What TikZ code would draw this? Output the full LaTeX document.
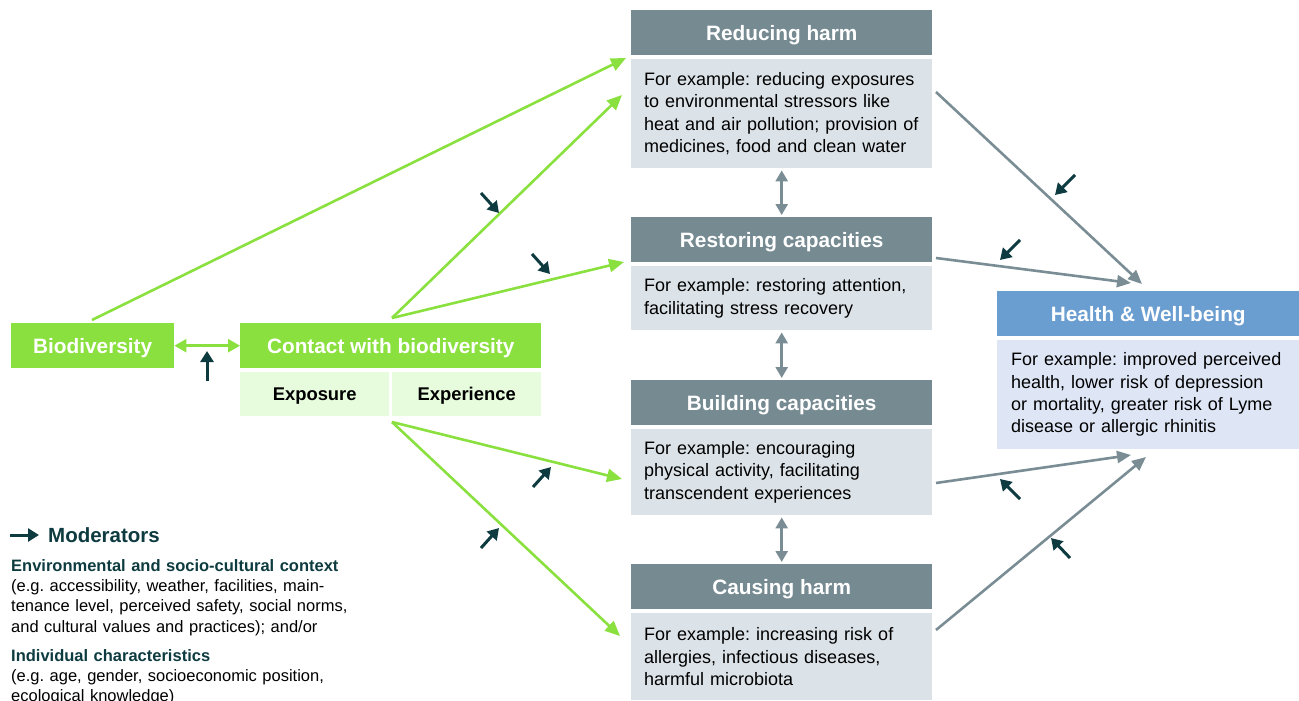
\documentclass[tikz,border=0pt]{standalone}
\usepackage{fontspec}
\setmainfont{Liberation Sans}
\usetikzlibrary{arrows.meta}
\frenchspacing
\definecolor{grn}{HTML}{8AE03E}
\definecolor{lgrn}{HTML}{E6FCDC}
\definecolor{hgray}{HTML}{768A92}
\definecolor{bgray}{HTML}{DCE3E8}
\definecolor{hblue}{HTML}{6A9DD0}
\definecolor{bblue}{HTML}{DEE6F5}
\definecolor{teal}{HTML}{0D3B40}
\definecolor{agray}{HTML}{7A8D95}
\tikzset{
  hdr/.style={rectangle, fill=hgray, text=white, font=\bfseries\fontsize{20.8}{24}\selectfont,
    minimum width=301pt, minimum height=45pt, anchor=north west, inner sep=0pt,
    text height=15pt, text depth=0pt},
  bodybox/.style={rectangle, fill=bgray, text=black, font=\fontsize{18}{22.3}\selectfont,
    minimum width=301pt, text width=275pt, align=left, anchor=north west, inner xsep=13pt, inner ysep=0pt},
  gbox/.style={rectangle, fill=grn, text=white, font=\bfseries\fontsize{20.8}{24}\selectfont,
    minimum height=45pt, anchor=north west, inner sep=0pt, text height=15pt, text depth=0pt},
  lgbox/.style={rectangle, fill=lgrn, text=black, font=\bfseries\fontsize{18.4}{22}\selectfont,
    minimum width=149pt, minimum height=44pt, anchor=north west, inner sep=0pt,
    text height=13.2pt, text depth=0pt},
  garrow/.style={draw=grn, line width=2.6pt, -{Triangle[length=15pt,width=13pt]}},
  gdarrow/.style={draw=grn, line width=2.6pt, {Triangle[length=12pt,width=13pt]}-{Triangle[length=12pt,width=13pt]}},
  aarrow/.style={draw=agray, line width=2.6pt, -{Triangle[length=14pt,width=12pt]}},
  adarrow/.style={draw=agray, line width=2.6pt, {Triangle[length=11pt,width=12pt]}-{Triangle[length=11pt,width=12pt]}},
  modarrow/.style={draw=teal, line width=3pt, -{Triangle[length=11pt,width=13pt]}},
  legtxt/.style={anchor=north west, inner sep=0pt, align=left, text width=380pt,
    font=\fontsize{16.5}{20.3}\selectfont}
}
\begin{document}
\begin{tikzpicture}[x=1pt,y=-1pt]
\useasboundingbox (0,0) rectangle (1299,701);
% left boxes
\node[gbox, minimum width=163pt] (bio) at (11,323) {Biodiversity};
\node[gbox, minimum width=301pt] (con) at (240,323) {Contact with biodiversity};
\node[lgbox] (exp) at (240,372) {Exposure};
\node[lgbox] (expr) at (392,372) {Experience};
% pathway boxes
\node[hdr] (rhh) at (631,10) {Reducing harm};
\node[bodybox, minimum height=109pt] (rhb) at (631,59) {For example: reducing exposures\\to environmental stressors like\\heat and air pollution; provision of\\medicines, food and clean water};
\node[hdr] (rch) at (631,217) {Restoring capacities};
\node[bodybox, minimum height=64pt] (rcb) at (631,266) {For example: restoring attention,\\facilitating stress recovery};
\node[hdr] (bch) at (631,380) {Building capacities};
\node[bodybox, minimum height=86pt] (bcb) at (631,429) {For example: encouraging\\physical activity, facilitating\\transcendent experiences};
\node[hdr] (chh) at (631,564) {Causing harm};
\node[bodybox, minimum height=87pt] (chb) at (631,613) {For example: increasing risk of\\allergies, infectious diseases,\\harmful microbiota};
% health
\node[hdr, fill=hblue, minimum width=302pt] (hwh) at (997,291) {Health \& Well-being};
\node[bodybox, fill=bblue, minimum width=302pt, text width=274pt, inner xsep=14pt, minimum height=109pt] (hwb) at (997,340) {For example: improved perceived\\health, lower risk of depression\\or mortality, greater risk of Lyme\\disease or allergic rhinitis};
% coordinates
\coordinate (ctop) at (392,318);
\coordinate (cbot) at (392,422);
\coordinate (biotop) at (92,320);
\coordinate (t1) at (626,58);
\coordinate (t2) at (622,95);
\coordinate (t3) at (624,262);
\coordinate (t4) at (622,479);
\coordinate (t5) at (620,636);
\coordinate (s1) at (936,92);
\coordinate (s2) at (936,258);
\coordinate (s3) at (936,483);
\coordinate (s4) at (936,630);
\coordinate (h1) at (1142,284);
\coordinate (h2) at (1131,283);
\coordinate (h3) at (1131,455);
\coordinate (h4) at (1146,457);
% green arrows
\draw[gdarrow] (bio.east) -- (con.west);
\draw[garrow] (biotop) -- (t1);
\draw[garrow] (ctop) -- (t2);
\draw[garrow] (ctop) -- (t3);
\draw[garrow] (cbot) -- (t4);
\draw[garrow] (cbot) -- (t5);
% gray arrows
\draw[aarrow] (s1) -- (h1);
\draw[aarrow] (s2) -- (h2);
\draw[aarrow] (s3) -- (h3);
\draw[aarrow] (s4) -- (h4);
\draw[adarrow] ([yshift=-2pt]rhb.south) -- ([yshift=2pt]rch.north);
\draw[adarrow] ([yshift=-2pt]rcb.south) -- ([yshift=2pt]bch.north);
\draw[adarrow] ([yshift=-2pt]bcb.south) -- ([yshift=2pt]chh.north);
% moderator arrows
\draw[modarrow] (207,381) -- (207,351);
\draw[modarrow] (481,193) -- (499,213);
\draw[modarrow] (532,254) -- (550,274);
\draw[modarrow] (533,487) -- (551,467);
\draw[modarrow] (481,548) -- (499,528);
\draw[modarrow] (1075,175) -- (1055,195);
\draw[modarrow] (1020,240) -- (1000,260);
\draw[modarrow] (1020,499) -- (1000,479);
\draw[modarrow] (1070,558) -- (1051,538);
% legend
\draw[modarrow] (10,535) -- (39,535);
\node[anchor=west, inner sep=0pt, text=teal, font=\bfseries\fontsize{20.5}{24}\selectfont] (modt) at (48,535) {Moderators};
\node[legtxt] (env) at (11,559) {\textcolor{teal}{\bfseries Environmental and socio-cultural context}\\(e.g. accessibility, weather, facilities, main-\\tenance level, perceived safety, social norms,\\and cultural values and practices); and/or};
\node[legtxt] (ind) at (11,649) {\textcolor{teal}{\bfseries Individual characteristics}\\(e.g. age, gender, socioeconomic position,\\ecological knowledge)};
\end{tikzpicture}
\end{document}
